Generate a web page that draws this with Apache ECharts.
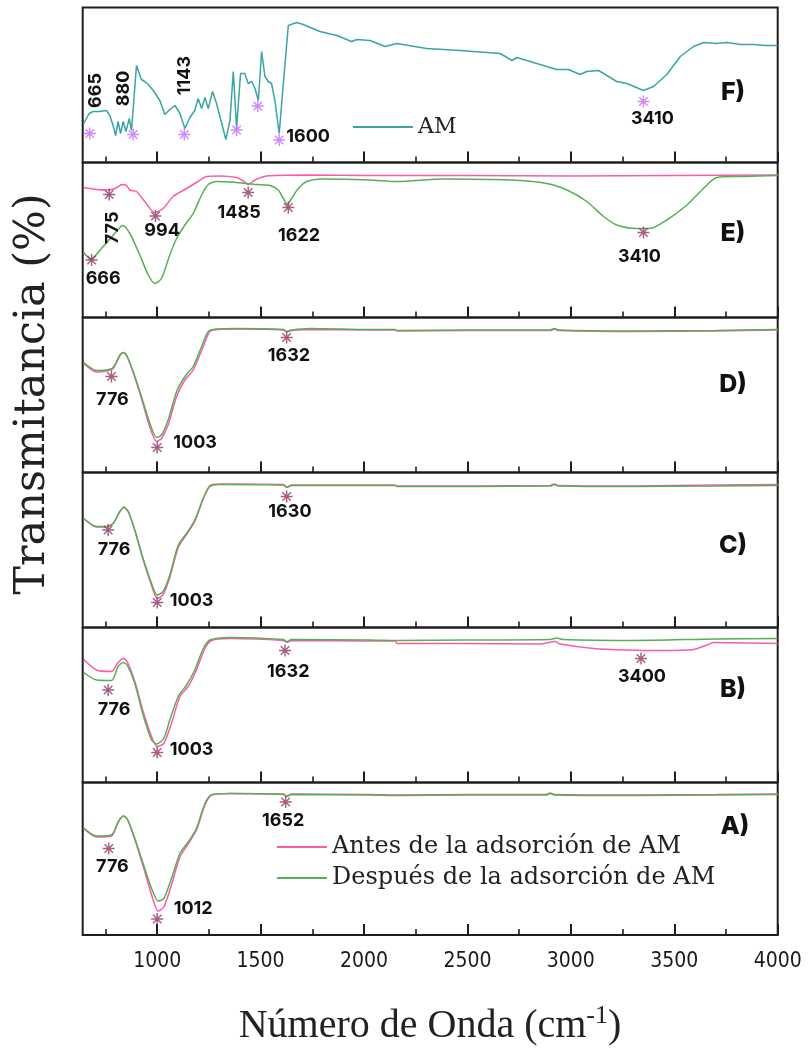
<!DOCTYPE html>
<html><head><meta charset="utf-8">
<script src="https://cdn.jsdelivr.net/npm/echarts@6/dist/echarts.min.js"></script>
<style>html,body{margin:0;padding:0;background:#fff}#c{width:809px;height:1055px}</style>
</head><body><div id="c"></div><script>
// ---------- DATA ----------
const xMin = 640, xMax = 4000;
const majorTicks = [1000, 1500, 2000, 2500, 3000, 3500, 4000];
const minorTicks = [750, 1250, 1750, 2250, 2750, 3250, 3750];
const panelNames = ['F)', 'E)', 'D)', 'C)', 'B)', 'A)'];
const nameAM = 'AM';
const nameAntes = 'Antes de la adsorción de AM';
const nameDespues = 'Después de la adsorción de AM';

// Panel F: AM
const amF = [[645,39],[671,49],[690,51],[720,51],[755,52],[771,47],[787,37],[799,27],[811,41],[823,29],[836,41],[849,31],[865,44],[876,32],[884,30],[900,97],[924,83],[940,81],[957,78],[981,72],[1013,62],[1037,48],[1061,53],[1086,57],[1110,49],[1134,34],[1158,45],[1182,52],[1198,64],[1215,54],[1231,65],[1247,54],[1268,71],[1287,59],[1311,40],[1332,23],[1352,42],[1368,91],[1384,34],[1403,89],[1424,89],[1440,79],[1457,81],[1473,74],[1489,62],[1505,111],[1521,86],[1537,81],[1553,79],[1569,62],[1590,29],[1610,79],[1634,137],[1674,140],[1706,138],[1787,131],[1868,127],[1940,121],[1965,123],[2029,122],[2102,116],[2158,119],[2303,114],[2464,112],[2658,109],[2715,102],[2739,105],[2819,100],[2932,93],[2988,93],[3045,88],[3077,91],[3134,92],[3222,81],[3271,79],[3351,72],[3400,76],[3464,88],[3529,106],[3593,116],[3642,120],[3700,119],[3755,120],[3820,118],[3884,118],[3940,117],[4000,117]];

// Panel E
const antesE = [[645,130],[707,128],[763,127.5],[795,129],[833,133],[852,132],[868,127.5],[900,126],[940,116],[989,105],[1029,109],[1077,121],[1142,129],[1190,135],[1239,141],[1303,141.5],[1384,140],[1416,136.5],[1440,133],[1473,137.5],[1529,141.5],[1706,142.5],[2029,142],[2500,142],[3000,141.5],[3500,142],[4000,142.5]];
const despuesE = [[645,65],[678,58.5],[739,71],[820,90],[833,92],[868,84],[916,62.5],[957,42.5],[989,34],[1021,39],[1061,62.5],[1094,79],[1134,92.5],[1174,104],[1215,122.5],[1247,133],[1287,136],[1384,135],[1481,133],[1545,132],[1585,127.5],[1610,119],[1629,113],[1650,119],[1682,129],[1723,136],[1803,138.5],[2029,137.5],[2158,136],[2384,138.5],[2706,137.5],[2884,134],[2981,127.5],[3077,116],[3158,101],[3222,92.5],[3319,89],[3383,89],[3464,97.5],[3561,112.5],[3658,132.5],[3706,140],[3835,141],[4000,142]];

// Panel D
const antesD = [[645,109],[707,100.5],[755,101.5],[787,104],[820,117],[836,120],[852,117],[884,100],[924,74],[965,45],[997,31],[1021,34],[1053,47.5],[1094,76],[1134,92.5],[1174,102.5],[1223,126],[1255,141],[1300,143],[1384,143.5],[1610,142.5],[1626,140.5],[1650,142],[1739,143],[2029,142.5],[2150,142.5],[2160,141.5],[2500,142],[2900,142],[2920,143.5],[2940,142],[3300,141],[3700,141.5],[4000,142.5]];
const despuesD = [[645,110],[707,102],[755,102.5],[787,105],[820,117.5],[836,120],[852,117.5],[884,101],[924,76],[965,49],[997,35],[1021,37.5],[1053,52.5],[1094,81],[1134,96],[1174,106],[1215,126],[1247,141],[1287,143.5],[1384,144],[1610,143],[1626,141],[1650,142.5],[1739,144],[2029,143],[2150,143],[2160,142],[2500,142.5],[2900,142.5],[2920,144],[2940,142.5],[3300,141.5],[3700,142],[4000,143]];

// Panel C
const antesC = [[645,109],[707,100.5],[755,100.5],[787,104],[820,116],[839,120.5],[860,116],[892,97],[932,68],[973,42],[1000,29],[1029,33],[1061,50],[1102,80],[1142,93],[1182,106],[1223,129],[1255,142],[1303,143.5],[1610,143],[1626,140.5],[1650,142.5],[2029,142.5],[2150,142.5],[2160,141.5],[2900,142],[2920,143.5],[2940,142],[3300,141.5],[3700,142.5],[4000,143]];
const despuesC = [[645,109],[707,101],[755,101],[787,104],[820,116],[839,120],[860,116],[892,97.5],[932,69],[973,44],[1000,32.5],[1029,36],[1061,52.5],[1102,82.5],[1142,94],[1182,107.5],[1223,129],[1255,141],[1303,143],[1610,142.5],[1626,140],[1650,142],[2029,142],[2150,142],[2160,141],[2900,141.5],[2920,143],[2940,141.5],[3300,141],[3700,141.5],[4000,142]];

// Panel B
const antesB = [[645,123],[707,112.5],[779,111],[811,120],[836,124],[855,121],[892,101],[932,71],[973,46],[1000,36],[1032,39],[1069,59],[1110,86],[1150,96],[1190,112.5],[1231,134],[1263,142],[1352,144],[1610,142],[1626,140],[1650,142],[2000,141.5],[2150,141.5],[2160,139],[2464,139],[2850,138.5],[2923,141],[2948,138.5],[3110,134],[3271,132.5],[3432,132],[3593,133],[3658,137.5],[3690,140],[4000,139]];
const despuesB = [[645,110],[707,102.5],[779,102],[811,116],[836,120],[855,117.5],[892,99],[932,67.5],[973,42.5],[997,38.5],[1032,44],[1061,62.5],[1102,86],[1142,97.5],[1182,112.5],[1223,134],[1255,142.5],[1352,145],[1610,143],[1626,141],[1650,143],[2029,142.5],[2160,142],[2500,142.5],[2900,143],[2932,144.5],[2960,143],[3300,142],[3700,143.5],[4000,144]];

// Panel A
const antesA = [[645,106.5],[707,98],[779,99],[811,112.5],[836,119],[855,116],[892,95.5],[932,69],[973,40],[1005,24],[1032,28],[1069,50],[1110,78],[1150,91],[1190,105],[1231,130],[1263,140],[1352,141.5],[1610,141],[1626,139],[1650,141],[2029,140.5],[2160,140],[2500,140.5],[2880,140.5],[2900,142],[2920,140.5],[3300,140],[3700,140.5],[4000,141]];
const despuesA = [[645,107],[707,99],[779,100],[811,113],[836,119],[855,116.5],[892,96.5],[932,71.5],[973,46.5],[1005,34],[1032,36.5],[1069,56.5],[1110,81.5],[1150,93],[1190,106.5],[1231,131.5],[1263,140],[1352,141.5],[1610,140.5],[1626,138.5],[1650,140.5],[2029,140],[2160,139.5],[2500,140],[2880,140],[2900,141.5],[2920,140],[3300,139.5],[3700,140],[4000,140.5]];

// Peak markers: [wavenumber, transmittance, label]
const starsF = [[674,29,'665'],[884,28,'880'],[1131,28,'1143'],[1384,32.5,''],[1486,56.5,''],[1590,22.5,'1600'],[3351,61,'3410']];
const starsE = [[683,57.5,'666'],[768,123,'775'],[992,101.5,'994'],[1440,125,'1485'],[1634,110,'1622'],[3351,85,'3410']];
const starsD = [[779,96,'776'],[1000,25,'1003'],[1626,135,'1632']];
const starsC = [[763,97.5,'776'],[1000,25,'1003'],[1626,131,'1630']];
const starsB = [[763,92.5,'776'],[1000,30,'1003'],[1618,132,'1632'],[3339,124,'3400']];
const starsA = [[766,86.5,'776'],[1000,16,'1012'],[1621,133,'1652']];

// ---------- LAYOUT / STYLE ----------
const panelTops = [7.5, 162.5, 317.5, 472.5, 627.5, 782.5];
const panelHeights = [155, 155, 155, 155, 155, 152.5];
const gridLeft = 82.7, gridRight = 31.3;
const pink = '#ff5aaa', green = '#55b055', teal = '#3aa5a5';
const starDark = '#8e3565', starLight = '#c56cf5';
const starPath = 'path://M44 0L56 0L56 100L44 100Z M0 44L100 44L100 56L0 56Z M10.4 18.8L18.8 10.4L89.6 81.2L81.2 89.6Z M81.2 10.4L89.6 18.8L18.8 89.6L10.4 81.2Z';
// label offsets [dx, dy, rotated, align]
const labelLayout = [
  [[6,-43,1],[-10,-46,1],[0,-59,1],null,null,[7,-3,0,'left'],[9,17,0]],
  [[11.6,18.3,0],[3.4,33.4,1],[6.6,15,0],[-9,20,0],[10.7,27.7,0],[-4,23.7,0]],
  [[1,22.6,0],[38,-4.6,0],[2.3,18.4,0]],
  [[6,20,0],[34.4,-2.3,0],[3.3,15,0]],
  [[6,19.3,0],[34.4,-3.4,0],[3.3,21,0],[1,18.4,0]],
  [[3.7,18.4,0],[36,-10,0],[-2.4,19,0]]
];
const letterPos = [[733,92],[733,233],[733,384],[733,545],[733,689],[735,826]];

const panels = [
  {lines: [[nameAM, amF, teal]], stars: starsF, starColor: starLight, smooth: false},
  {lines: [[nameAntes, antesE, pink],[nameDespues, despuesE, green]], stars: starsE, starColor: starDark, smooth: true},
  {lines: [[nameAntes, antesD, pink],[nameDespues, despuesD, green]], stars: starsD, starColor: starDark, smooth: true},
  {lines: [[nameAntes, antesC, pink],[nameDespues, despuesC, green]], stars: starsC, starColor: starDark, smooth: true},
  {lines: [[nameAntes, antesB, pink],[nameDespues, despuesB, green]], stars: starsB, starColor: starDark, smooth: true},
  {lines: [[nameAntes, antesA, pink],[nameDespues, despuesA, green]], stars: starsA, starColor: starDark, smooth: true}
];

const chart = echarts.init(document.getElementById('c'), null, {renderer: 'canvas'});
const grids = [], xAxes = [], yAxes = [], series = [];
panels.forEach((p, i) => {
  grids.push({left: gridLeft, right: gridRight, top: panelTops[i], height: panelHeights[i], show: true, borderColor: '#1e1e1e', borderWidth: 2, backgroundColor: 'transparent'});
  const last = i === panels.length - 1;
  xAxes.push({gridIndex: i, type: 'value', min: xMin, max: xMax, position: 'bottom',
    axisLine: {show: false}, splitLine: {show: false},
    axisTick: {show: true, inside: true, length: 11, customValues: majorTicks, lineStyle: {color: '#1e1e1e', width: 2}},
    axisLabel: {show: last, customValues: majorTicks, margin: 16, formatter: v => String(v),
      fontFamily: '"Liberation Sans Narrow", "DejaVu Sans Condensed", "Roboto Condensed", "Liberation Sans", sans-serif', fontSize: 21, color: '#1a1a1a'}});
  xAxes.push({gridIndex: i, type: 'value', min: xMin, max: xMax, position: 'bottom', offset: 0,
    axisLine: {show: false}, splitLine: {show: false}, axisLabel: {show: false},
    axisTick: {show: true, inside: true, length: 6, customValues: minorTicks, lineStyle: {color: '#1e1e1e', width: 1.6}}});
  yAxes.push({gridIndex: i, type: 'value', min: 0, max: panelHeights[i], show: false});
  p.lines.forEach(l => {
    series.push({type: 'line', name: l[0], xAxisIndex: 2 * i, yAxisIndex: i, data: l[1], showSymbol: false, symbol: 'none',
      smooth: p.smooth ? 0.25 : false,
      lineStyle: {color: l[2], width: 1.5}, itemStyle: {color: l[2]}, silent: true, z: 2});
  });
  series.push({type: 'scatter', xAxisIndex: 2 * i, yAxisIndex: i, data: p.stars.map(s => [s[0], s[1]]),
    symbol: starPath, symbolSize: 12, itemStyle: {color: p.starColor}, silent: true, z: 5});
});

chart.setOption({
  animation: false,
  backgroundColor: '#ffffff',
  grid: grids, xAxis: xAxes, yAxis: yAxes, series: series,
  legend: [
    {data: [nameAM], left: 348, top: 111, itemWidth: 60, itemHeight: 2, icon: 'rect', selectedMode: false,
      textStyle: {fontFamily: '"DejaVu Serif", serif', fontSize: 22, color: '#222'}},
    {data: [nameAntes, nameDespues], orient: 'vertical', left: 272, top: 830, itemWidth: 50, itemHeight: 2, icon: 'rect', itemGap: 7, selectedMode: false,
      textStyle: {fontFamily: '"DejaVu Serif", serif', fontSize: 24, color: '#222'}}
  ]
});

const gfx = [];
gfx.push({type: 'text', x: 33, y: 394, rotation: Math.PI / 2,
  style: {text: 'Transmitancia (%)', fontFamily: '"DejaVu Serif", serif', fontSize: 43, fill: '#222', align: 'center', verticalAlign: 'middle'}});
gfx.push({type: 'text', x: 430, y: 1026,
  style: {text: '{a|Número de Onda (cm}{s|-1}{a|)}', align: 'center', verticalAlign: 'middle', fill: '#222',
    rich: {a: {fontFamily: '"Liberation Serif", serif', fontSize: 40, lineHeight: 46, fill: '#222'},
           s: {fontFamily: '"Liberation Serif", serif', fontSize: 26, lineHeight: 26, verticalAlign: 'top', fill: '#222'}}}});
panelNames.forEach((n, i) => {
  gfx.push({type: 'text', x: letterPos[i][0], y: letterPos[i][1],
    style: {text: n, fontFamily: 'Inter, "Noto Sans", sans-serif', fontWeight: 800, fontSize: 25, fill: '#111', align: 'center', verticalAlign: 'middle'}});
});
panels.forEach((p, i) => {
  p.stars.forEach((s, j) => {
    const o = labelLayout[i][j];
    if (!s[2] || !o) return;
    const px = chart.convertToPixel({xAxisIndex: 2 * i, yAxisIndex: i}, [s[0], s[1]]);
    gfx.push({type: 'text', x: px[0] + o[0], y: px[1] + o[1], rotation: o[2] ? Math.PI / 2 : 0, z: 20,
      style: {text: s[2], fontFamily: 'Inter, "Noto Sans", sans-serif', fontWeight: 700, fontSize: 18, fill: '#111',
        align: o[3] || 'center', verticalAlign: 'middle'}});
  });
});
chart.setOption({graphic: gfx});
</script></body></html>
